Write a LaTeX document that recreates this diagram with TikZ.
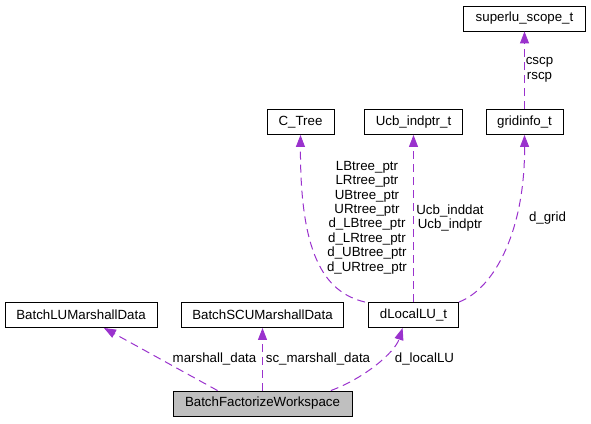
\documentclass[tikz,border=0pt]{standalone}
\usepackage{fontspec}
\setmainfont{Liberation Sans}
\usetikzlibrary{arrows.meta,calc}
\definecolor{edgecol}{HTML}{9A32CD}
\definecolor{boxfill}{HTML}{BFBFBF}
\tikzset{
  cls/.style={draw=black, line width=0.9pt, fill=white, inner sep=0pt, minimum height=25pt, font=\fontsize{13.3}{14.5}\selectfont},
  cur/.style={cls, fill=boxfill},
  edge/.style={draw=edgecol, line width=1pt, dash pattern=on 8pt off 5pt, -{Triangle[length=12pt,width=9pt,fill=edgecol,sep=0pt]}},
  lbl/.style={inner sep=0pt, align=center, font=\fontsize{13.3}{14.45}\selectfont, text=black}
}
\begin{document}
\begin{tikzpicture}[x=1pt,y=-1pt]
\useasboundingbox (0,0) rectangle (591,423);
\node[cls, minimum width=122pt] (sls) at (524.5,18.5) {superlu\_scope\_t};
\node[cls, minimum width=67pt] (ct) at (300.5,122) {C\_Tree};
\node[cls, minimum width=98pt] (ucb) at (413.5,122) {Ucb\_indptr\_t};
\node[cls, minimum width=77pt] (gi) at (524.5,122) {gridinfo\_t};
\node[cls, minimum width=152pt] (blu) at (81,315) {BatchLUMarshallData};
\node[cls, minimum width=162pt] (bscu) at (262.5,315) {BatchSCUMarshallData};
\node[cls, minimum width=90pt] (dl) at (413.5,315) {dLocalLU\_t};
\node[cur, minimum width=179pt] (bfw) at (262.5,403.5) {BatchFactorizeWorkspace};

% edges
\draw[edge] (gi.north) -- (sls.south);
\draw[edge] ([xshift=-3pt]dl.north west) .. controls (322,292) and (300,250) .. (ct.south);
\draw[edge] (dl.north) -- (ucb.south);
\draw[edge] (dl.north east) .. controls (495,288) and (525,230) .. (gi.south);
\draw[edge] ($(bfw.north west)!0.25!(bfw.north east)$) -- ($(blu.south west)!0.65!(blu.south east)$);
\draw[edge] (bfw.north -| bscu.south) -- (bscu.south);
\draw[edge] ($(bfw.north west)!0.88!(bfw.north east)$) .. controls (365,378) and (395,352) .. ($(dl.south west)!0.38!(dl.south east)$);

% labels
\node[lbl] (l1) at (539.5,70) {cscp\\rscp};
\node[lbl] (l2) at (367,217.5) {LBtree\_ptr\\LRtree\_ptr\\UBtree\_ptr\\URtree\_ptr\\d\_LBtree\_ptr\\d\_LRtree\_ptr\\d\_UBtree\_ptr\\d\_URtree\_ptr};
\node[lbl] (l3) at (450,218) {Ucb\_inddat\\Ucb\_indptr};
\node[lbl] (l4) at (547.5,217.7) {d\_grid};
\node[lbl] (l5) at (214.5,359) {marshall\_data};
\node[lbl] (l6) at (318,359) {sc\_marshall\_data};
\node[lbl] (l7) at (424.5,359) {d\_localLU};
\end{tikzpicture}
\end{document}
